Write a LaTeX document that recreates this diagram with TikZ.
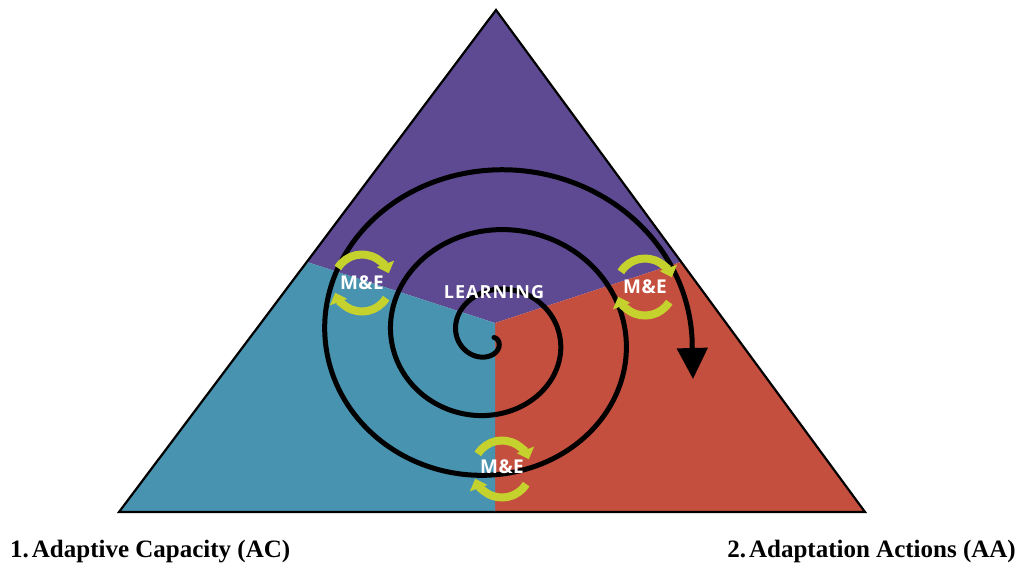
\documentclass[tikz,border=0pt]{standalone}
\usepackage{fontspec}
\setmainfont{Liberation Serif}
\newfontfamily\mefont[LetterSpace=2]{Open Sans}
\newfontfamily\learnfont[LetterSpace=6]{Open Sans}
\usetikzlibrary{arrows.meta}
\definecolor{tpurple}{HTML}{5E4A92}
\definecolor{tblue}{HTML}{4893B0}
\definecolor{tred}{HTML}{C44F3E}
\definecolor{tgreen}{HTML}{C5D22E}
\tikzset{
  outline/.style={draw=black, line width=2.2pt, line join=miter},
  spiralline/.style={draw=black, line width=5pt, line cap=round, line join=round},
  mearc/.style={draw=tgreen, line width=8pt, -{Triangle[width=18pt,length=10pt]}},
  metext/.style={text=white, font=\mefont\bfseries\fontsize{19}{21}\selectfont, inner sep=0pt},
  learntext/.style={text=white, font=\learnfont\bfseries\fontsize{18}{20}\selectfont, inner sep=0pt},
  caption/.style={text=black, font=\bfseries\fontsize{25}{28}\selectfont, inner sep=0pt},
  mecycle/.pic={
    \draw[mearc] (-148:28.5) arc[start angle=-148, end angle=-20, radius=28.5];
    \draw[mearc] (32:28.5) arc[start angle=32, end angle=160, radius=28.5];
  }
}
\begin{document}
\begin{tikzpicture}[x=1pt,y=-1pt]
\useasboundingbox (0,0) rectangle (1022,568);
% triangle corners and division points
\coordinate (A) at (496,10);
\coordinate (BL) at (119,512);
\coordinate (BR) at (865,512);
\coordinate (C) at (495,323);
\coordinate (PL) at (307,262);
\coordinate (PR) at (681,262);
\coordinate (M) at (495,512);
% regions
\fill[tpurple] (A) -- (PR) -- (C) -- (PL) -- cycle;
\fill[tred] (PR) -- (BR) -- (M) -- (C) -- cycle;
\fill[tblue] (PL) -- (C) -- (M) -- (BL) -- cycle;
\draw[outline] (A) -- (BR) -- (BL) -- cycle;
% spiral
\coordinate (tip) at (693,379);
\draw[spiralline, -{Triangle[width=30pt,length=31pt]}]
  plot[domain=0:1080, samples=360, variable=\t, smooth]
  ({492+(2+0.183333*\t)*cos(\t)}, {337.5+(2.5+0.166667*\t)*sin(\t)}) -- (tip);
% M&E cycles
\pic at (362,283) {mecycle};
\pic at (645,287) {mecycle};
\pic at (502,469) {mecycle};
\node[metext] (me1) at (362,283) {M\&E};
\node[metext] (me2) at (645,287) {M\&E};
\node[metext] (me3) at (502,467) {M\&E};
\node[learntext] (learn) at (494,292) {LEARNING};
% captions
\node[caption, anchor=base west] (ac) at (10,557) {1.\hspace{0.12em}Adaptive Capacity (AC)};
\node[caption, anchor=base east] (aa) at (1016,557) {2.\hspace{0.12em}Adaptation Actions (AA)};
\end{tikzpicture}
\end{document}
